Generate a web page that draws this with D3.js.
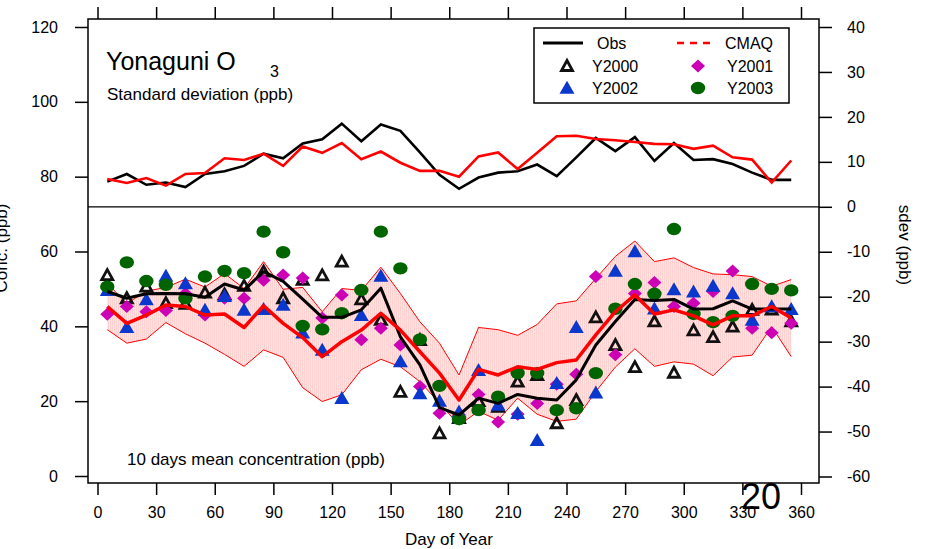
<!DOCTYPE html>
<html>
<head>
<meta charset="utf-8">
<script src="https://cdn.jsdelivr.net/npm/d3@7"></script>
<style>
body { margin: 0; background: #fff; }
text { font-family: "Liberation Sans", Arial, sans-serif; fill: #000; }
</style>
</head>
<body>
<svg id="svg1" width="927" height="549"></svg>
<script>
var svg = d3.select('#svg1');

// day of year (centre of each 10 day window)
var days = [5, 15, 25, 35, 45, 55, 65, 75, 85, 95, 105, 115, 125, 135, 145, 155, 165, 175,
    185, 195, 205, 215, 225, 235, 245, 255, 265, 275, 285, 295, 305, 315, 325, 335, 345, 355];

// standard deviation (right axis)
var obsSd = [5.6, 7.3, 4.9, 5.4, 4.4, 7.3, 7.9, 9.1, 11.8, 10.8, 14.1, 15.0, 18.5, 14.6, 18.3, 16.9, 12.1, 7.1,
    4.0, 6.5, 7.6, 7.9, 9.4, 6.8, 11.0, 15.3, 12.4, 15.5, 10.2, 14.2, 10.4, 10.6, 9.5, 7.6, 6.0, 6.0];
var cmaqSd = [6.2, 5.3, 6.4, 4.7, 7.3, 7.5, 10.8, 10.4, 11.8, 9.1, 13.4, 12.0, 14.2, 10.6, 12.3, 9.8, 8.0, 8.0,
    6.7, 11.2, 12.1, 8.4, 12.0, 15.7, 15.8, 15.1, 14.8, 14.4, 14.0, 13.9, 12.9, 13.6, 11.0, 10.5, 5.4, 10.3];

// 10 day mean concentration (left axis)
var obsMean = [49.3, 47.5, 48.7, 48.8, 48.7, 47.8, 51.3, 49.7, 54.6, 52.0, 47.3, 42.4, 42.4, 44.4, 50.2, 37.2, 29.7, 18.3,
    16.3, 20.8, 19.4, 21.8, 20.8, 20.3, 25.7, 35.0, 41.3, 47.2, 46.9, 47.2, 44.6, 44.7, 46.8, 44.6, 44.6, 44.6];
var cmaqMean = [45.3, 40.8, 43.0, 45.7, 45.3, 43.0, 43.3, 39.7, 45.5, 40.8, 37.0, 31.9, 35.9, 39.0, 43.5, 39.0, 33.2, 27.5,
    20.3, 28.5, 27.0, 29.2, 28.5, 30.3, 31.0, 37.7, 43.9, 48.4, 43.3, 44.4, 42.8, 40.4, 42.8, 42.8, 45.3, 42.2];
var cmaqHigh = [51.5, 46.1, 49.4, 50.4, 52.6, 50.5, 54.1, 50.1, 57.3, 49.9, 50.4, 43.9, 50.1, 49.6, 55.8, 48.8, 41.2, 35.5,
    27.0, 39.7, 39.1, 37.6, 40.5, 46.0, 46.8, 52.8, 58.7, 62.8, 57.3, 58.3, 55.7, 54.0, 53.8, 53.3, 50.7, 52.5];
var cmaqLow = [39.1, 35.5, 36.6, 41.0, 38.0, 35.5, 32.5, 29.3, 33.7, 31.7, 23.6, 19.9, 21.7, 28.4, 31.2, 29.2, 25.2, 19.5,
    13.6, 17.3, 14.9, 20.8, 16.5, 14.6, 15.2, 22.6, 29.1, 34.0, 29.3, 30.5, 29.9, 26.8, 31.8, 32.3, 39.9, 31.9];

var y2000 = [53.7, 47.5, 50.6, 46.2, 46.0, 49.0, 48.5, 50.8, 54.6, 47.5, 52.4, 53.6, 57.3, 47.2, 41.7, 22.5, 36.3, 11.4,
    15.5, 20.0, 18.5, 25.2, 27.0, 14.1, 20.3, 42.4, 35.0, 29.1, 41.3, 27.6, 38.9, 37.1, 39.9, 44.4, 44.5, 41.3];
var y2001 = [43.2, 45.3, 43.9, 44.2, 48.8, 43.0, 47.5, 47.5, 52.3, 53.7, 52.9, 42.2, 48.4, 36.4, 39.5, 35.0, 23.9, 16.8,
    16.3, 21.8, 14.4, 16.5, 19.4, 24.5, 27.2, 53.3, 32.4, 48.8, 51.7, 45.3, 46.2, 49.3, 54.8, 39.5, 38.3, 40.8];
var y2002 = [49.7, 39.8, 47.2, 53.5, 51.5, 44.4, 48.1, 44.4, 44.6, 45.7, 38.3, 33.7, 20.8, 43.0, 53.5, 30.6, 22.1, 20.1,
    17.2, 28.3, 19.0, 16.8, 9.6, 24.8, 39.8, 22.3, 54.8, 60.0, 44.7, 49.9, 49.3, 50.8, 48.8, 41.7, 45.3, 44.6];
var y2003 = [50.6, 57.1, 52.1, 51.1, 47.5, 53.3, 54.8, 54.2, 65.3, 59.8, 40.1, 39.2, 43.5, 49.7, 65.3, 55.5, 36.5, 24.1,
    15.2, 17.6, 21.2, 27.5, 27.5, 17.6, 18.1, 27.5, 44.7, 51.3, 48.7, 66.0, 43.3, 41.1, 42.8, 51.3, 50.0, 49.6];

var xTicks = [0, 30, 60, 90, 120, 150, 180, 210, 240, 270, 300, 330, 360];
var leftTicks = [0, 20, 40, 60, 80, 100, 120];
var rightTicks = [-60, -50, -40, -30, -20, -10, 0, 10, 20, 30, 40];

var box = {l: 88, r: 819, t: 19, b: 483};

var xScale = d3.scaleLinear().domain([0, 360]).range([97.5, 801]);
var yLeft = d3.scaleLinear().domain([0, 120]).range([476, 27]);
var yRight = d3.scaleLinear().domain([-60, 40]).range([476.5, 27]);

var defs = svg.append('defs');
var pat = defs.append('pattern')
    .attr('id', 'hatch')
    .attr('patternUnits', 'userSpaceOnUse')
    .attr('width', 2).attr('height', 4);
pat.append('rect').attr('width', 2).attr('height', 4).attr('fill', '#ffe4e4');
pat.append('rect').attr('width', 1).attr('height', 4).attr('fill', '#ffd2d2');

// ---- band (cmaq mean +/- sd)
var area = d3.area()
    .x(function(d, i) { return xScale(days[i]); })
    .y0(function(d, i) { return yLeft(cmaqLow[i]); })
    .y1(function(d, i) { return yLeft(cmaqHigh[i]); });

svg.append('path')
    .datum(days)
    .attr('d', area)
    .attr('fill', 'url(#hatch)');

function lineOf(arr, yS) {
    return d3.line()
        .x(function(d, i) { return xScale(days[i]); })
        .y(function(d) { return yS(d); })(arr);
}

svg.append('path').attr('d', lineOf(cmaqHigh, yLeft))
    .attr('fill', 'none').attr('stroke', '#ff0000').attr('stroke-width', 1);
svg.append('path').attr('d', lineOf(cmaqLow, yLeft))
    .attr('fill', 'none').attr('stroke', '#ff0000').attr('stroke-width', 1);

// ---- markers
function triPath(w, h) {
    return 'M0,' + (-h * 0.55) + 'L' + (w / 2) + ',' + (h * 0.45) + 'L' + (-w / 2) + ',' + (h * 0.45) + 'Z';
}
function diaPath(w, h) {
    return 'M0,' + (-h / 2) + 'L' + (w / 2) + ',0L0,' + (h / 2) + 'L' + (-w / 2) + ',0Z';
}

var series = [
    {name: 'Y2000', vals: y2000, kind: 'open'},
    {name: 'Y2001', vals: y2001, kind: 'diamond'},
    {name: 'Y2002', vals: y2002, kind: 'tri'},
    {name: 'Y2003', vals: y2003, kind: 'dot'}
];

function drawMarker(g, kind) {
    if (kind == 'open') {
        g.append('path').attr('d', triPath(11, 10))
            .attr('fill', 'none').attr('stroke', '#111').attr('stroke-width', 2.8)
            .attr('stroke-linejoin', 'miter');
    } else if (kind == 'diamond') {
        g.append('path').attr('d', diaPath(14, 13)).attr('fill', '#cc00b4');
    } else if (kind == 'tri') {
        g.append('path').attr('d', triPath(15, 13)).attr('fill', '#0a37cc');
    } else {
        g.append('ellipse').attr('rx', 7.2).attr('ry', 6.2).attr('fill', '#006400');
    }
}

series.forEach(function(s) {
    svg.append('g').selectAll('.m')
        .data(s.vals)
        .enter()
        .append('g')
        .attr('transform', function(d, i) {
            return 'translate(' + [xScale(days[i]), yLeft(d)] + ')';
        })
        .each(function() { drawMarker(d3.select(this), s.kind); });
});

// ---- mean lines
svg.append('path').attr('d', lineOf(obsMean, yLeft))
    .attr('fill', 'none').attr('stroke', '#000').attr('stroke-width', 3)
    .attr('stroke-linejoin', 'round');
svg.append('path').attr('d', lineOf(cmaqMean, yLeft))
    .attr('fill', 'none').attr('stroke', '#ff0000').attr('stroke-width', 3.5)
    .attr('stroke-linejoin', 'round');

// ---- sdev lines (top panel)
svg.append('path').attr('d', lineOf(obsSd, yRight))
    .attr('fill', 'none').attr('stroke', '#000').attr('stroke-width', 2.6);
svg.append('path').attr('d', lineOf(cmaqSd, yRight))
    .attr('fill', 'none').attr('stroke', '#ff0000').attr('stroke-width', 2.6);

// ---- frame and separator
svg.append('rect')
    .attr('x', box.l).attr('y', box.t)
    .attr('width', box.r - box.l).attr('height', box.b - box.t)
    .attr('fill', 'none').attr('stroke', '#000').attr('stroke-width', 1.5);
svg.append('line')
    .attr('x1', box.l).attr('x2', box.r)
    .attr('y1', yRight(0)).attr('y2', yRight(0))
    .attr('stroke', '#000').attr('stroke-width', 1.2);

// ---- axes
function styleAxis(g) {
    g.select('.domain').remove();
    g.selectAll('.tick line').attr('stroke', '#000').attr('stroke-width', 1.5);
    g.selectAll('.tick text').style('font-size', '16px').attr('fill', '#000');
}
var plainNum = function(d) { return String(d); };

svg.append('g')
    .attr('transform', 'translate(0,' + box.b + ')')
    .call(d3.axisBottom(xScale).tickValues(xTicks).tickSize(12).tickPadding(12).tickFormat(plainNum))
    .call(styleAxis);

svg.append('g')
    .attr('transform', 'translate(0,' + box.t + ')')
    .call(d3.axisTop(xScale).tickValues(xTicks).tickSize(12).tickFormat(''))
    .call(styleAxis);

svg.append('g')
    .attr('transform', 'translate(' + box.l + ',0)')
    .call(d3.axisLeft(yLeft).tickValues(leftTicks).tickSize(13).tickPadding(17).tickFormat(plainNum))
    .call(styleAxis);

svg.append('g')
    .attr('transform', 'translate(' + box.r + ',0)')
    .call(d3.axisRight(yRight).tickValues(rightTicks).tickSize(13).tickPadding(15).tickFormat(plainNum))
    .call(styleAxis);

// ---- axis titles
svg.append('text')
    .attr('x', 449).attr('y', 545)
    .attr('text-anchor', 'middle')
    .style('font-size', '17px')
    .text('Day of Year');

svg.append('text')
    .attr('transform', 'translate(7,248) rotate(-90)')
    .attr('text-anchor', 'middle')
    .style('font-size', '17px')
    .text('Conc. (ppb)');

svg.append('text')
    .attr('transform', 'translate(899,245) rotate(90)')
    .attr('text-anchor', 'middle')
    .style('font-size', '17px')
    .text('sdev (ppb)');

// ---- annotations
svg.append('text').attr('x', 106).attr('y', 70)
    .style('font-size', '25px').text('Yonaguni O');
svg.append('text').attr('x', 270).attr('y', 77)
    .style('font-size', '16px').text('3');
svg.append('text').attr('x', 107).attr('y', 100)
    .style('font-size', '17px').text('Standard deviation (ppb)');
svg.append('text').attr('x', 127).attr('y', 465)
    .style('font-size', '17px').text('10 days mean concentration (ppb)');
svg.append('text').attr('x', 741).attr('y', 509)
    .style('font-size', '36px').text('20');

// ---- legend
var legend = svg.append('g');
legend.append('rect')
    .attr('x', 534).attr('y', 28).attr('width', 255).attr('height', 75)
    .attr('fill', '#fff').attr('stroke', '#000').attr('stroke-width', 1.5);

legend.append('line')
    .attr('x1', 543).attr('x2', 583).attr('y1', 43).attr('y2', 43)
    .attr('stroke', '#000').attr('stroke-width', 3);
legend.append('text').attr('x', 597).attr('y', 49).style('font-size', '16px').text('Obs');

legend.append('line')
    .attr('x1', 677).attr('x2', 711).attr('y1', 43).attr('y2', 43)
    .attr('stroke', '#ff0000').attr('stroke-width', 2.6)
    .attr('stroke-dasharray', '7,6');
legend.append('text').attr('x', 725).attr('y', 49).style('font-size', '16px').text('CMAQ');

var legItems = [
    {s: series[0], x: 567, y: 66},
    {s: series[1], x: 698, y: 66},
    {s: series[2], x: 567, y: 88},
    {s: series[3], x: 698, y: 88}
];
legItems.forEach(function(it) {
    var g = legend.append('g').attr('transform', 'translate(' + [it.x, it.y] + ')');
    drawMarker(g, it.s.kind);
    legend.append('text')
        .attr('x', it.x + (it.x < 600 ? 25 : 29)).attr('y', it.y + 6)
        .style('font-size', '16px')
        .text(it.s.name);
});
</script>
</body>
</html>
